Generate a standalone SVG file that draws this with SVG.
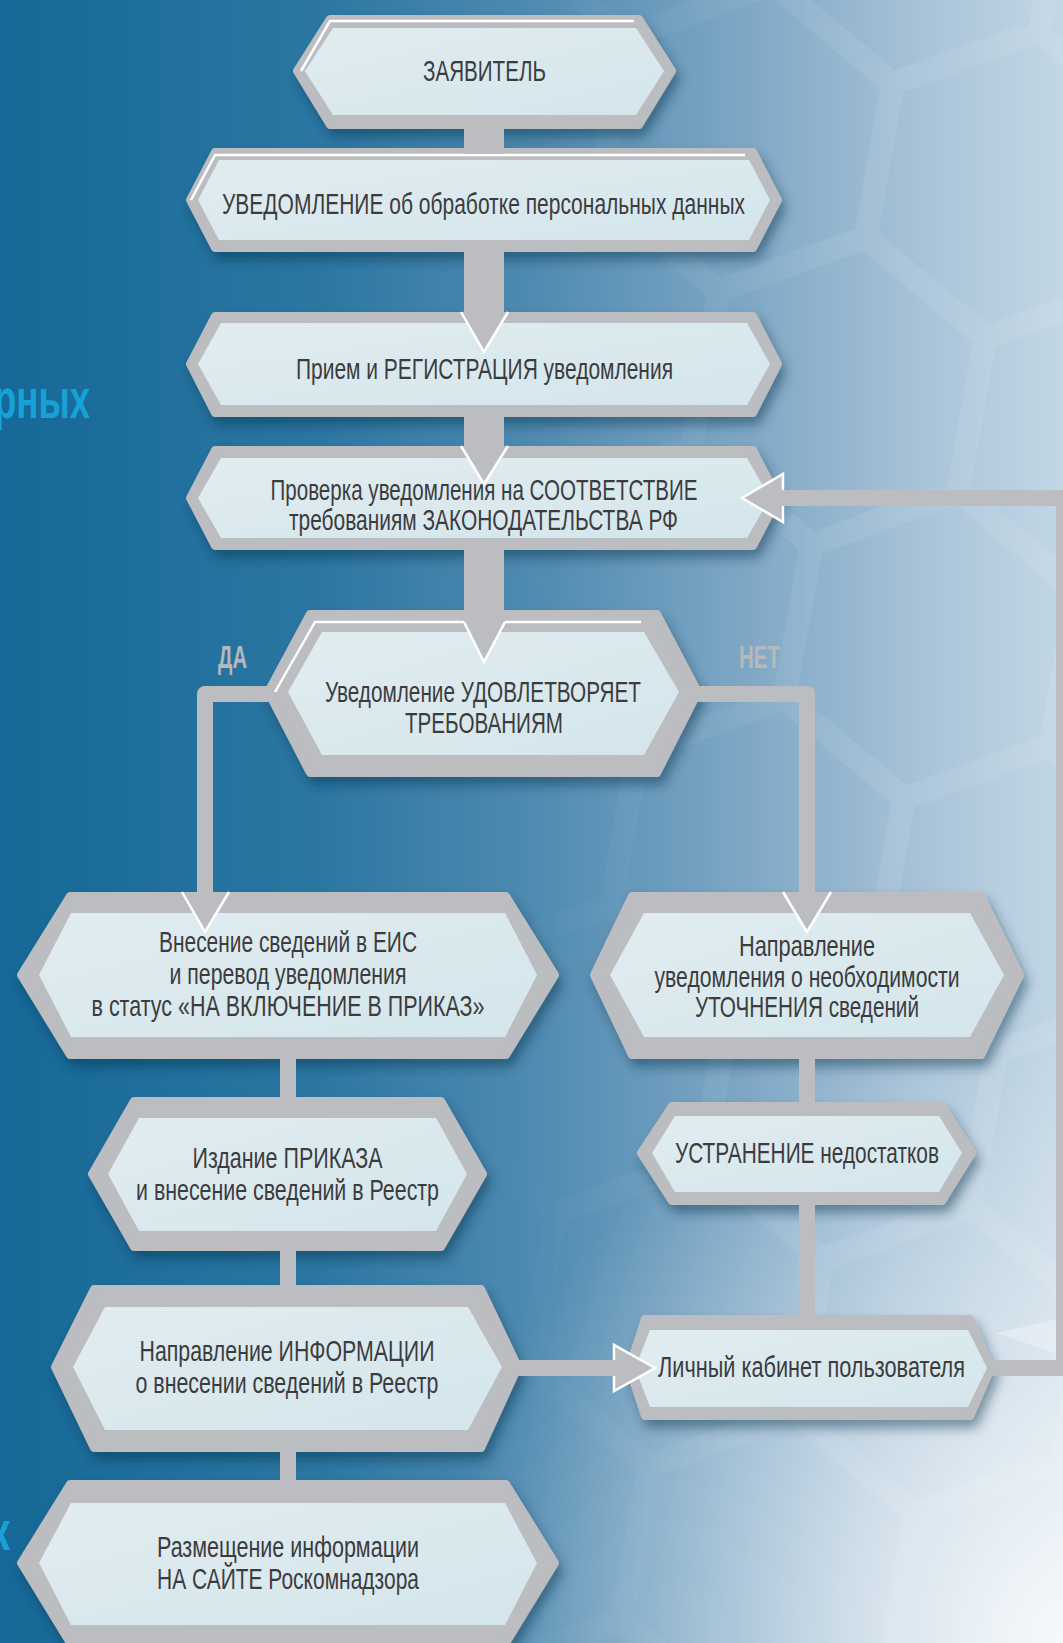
<svg xmlns="http://www.w3.org/2000/svg" width="1063" height="1643" viewBox="0 0 1063 1643">
<defs>
<linearGradient id="bg" x1="0" y1="0" x2="1" y2="0">
<stop offset="0" stop-color="#156897"/>
<stop offset="0.3" stop-color="#2b77a2"/>
<stop offset="0.5" stop-color="#4f8ab0"/>
<stop offset="0.7" stop-color="#7ea7c5"/>
<stop offset="0.85" stop-color="#a4c0d6"/>
<stop offset="1" stop-color="#c3d7e5"/>
</linearGradient>
<radialGradient id="glow" cx="1063" cy="1643" r="620" gradientUnits="userSpaceOnUse">
<stop offset="0" stop-color="#ffffff" stop-opacity="0.85"/>
<stop offset="0.5" stop-color="#ffffff" stop-opacity="0.4"/>
<stop offset="1" stop-color="#ffffff" stop-opacity="0"/>
</radialGradient>
<linearGradient id="fadeMask" x1="0" y1="0" x2="1" y2="0">
<stop offset="0.45" stop-color="#fff" stop-opacity="0"/>
<stop offset="0.8" stop-color="#fff" stop-opacity="1"/>
</linearGradient>
<mask id="hm"><rect width="1063" height="1643" fill="url(#fadeMask)"/></mask>
<pattern id="hex" width="208" height="360" patternUnits="userSpaceOnUse" patternTransform="translate(640,-40) rotate(10) scale(1.3)">
<path d="M104,0 L208,60 L208,180 L104,240 L0,180 L0,60 Z M104,240 L104,360" fill="none" stroke="#ffffff" stroke-width="18"/>
</pattern>
<linearGradient id="fill" x1="0" y1="0" x2="1" y2="1">
<stop offset="0" stop-color="#e1ecf0"/>
<stop offset="1" stop-color="#d3e6ec"/>
</linearGradient>
<filter id="sh" x="-10%" y="-20%" width="125%" height="150%">
<feDropShadow dx="4" dy="8" stdDeviation="6" flood-color="#0b2f45" flood-opacity="0.45"/>
</filter>
<style>
.o{fill:#bcbdc0;stroke:#bcbdc0;stroke-width:8;stroke-linejoin:round;filter:url(#sh)}
.i{fill:url(#fill)}
.hl{fill:none;stroke:#ffffff;stroke-width:2.5;stroke-linejoin:round}
.t{font-family:"Liberation Sans Narrow","Liberation Sans",Arial,sans-serif;font-size:30px;fill:#3c3c3e;text-anchor:middle}
.lb{font-family:"Liberation Sans Narrow","Liberation Sans",Arial,sans-serif;font-size:31px;font-weight:bold;fill:#b6b9bc;text-anchor:middle}
.cy{font-family:"Liberation Sans Narrow","Liberation Sans",Arial,sans-serif;font-size:56px;font-weight:bold;fill:#16a2d6}
.bar{fill:#bcbdc0}
.ln{fill:none;stroke:#bcbdc0;stroke-width:16;stroke-linejoin:round}
.ah{fill:#bcbdc0;stroke:#ffffff;stroke-width:2.5;stroke-linejoin:miter}
.aw{fill:none;stroke:#ffffff;stroke-width:2.5;stroke-linejoin:miter}
</style>
</defs>

<g id="background">
<rect width="1063" height="1643" fill="url(#bg)"/>
<rect width="1063" height="1643" fill="url(#hex)" mask="url(#hm)" opacity="0.08"/>
<rect width="1063" height="1643" fill="url(#glow)"/>
<polygon points="995,1333 1063,1318 1063,1356" fill="#ffffff" opacity="0.3"/>
<text class="cy" x="-6" y="418" textLength="96" lengthAdjust="spacingAndGlyphs">рных</text>
<text class="cy" x="-12" y="1550" textLength="22" lengthAdjust="spacingAndGlyphs">к</text>
</g>

<g id="n1">
<polygon class="o" points="297,71 330,19 639,19 672,71 639,125 330,125"/>
<polygon class="i" points="305,71 333,28 636,28 664,71 636,115 333,115"/>
<polyline class="hl" points="301,71 330,21 634,21"/>
<text class="t" x="484.5" y="81" textLength="123" lengthAdjust="spacingAndGlyphs">ЗАЯВИТЕЛЬ</text>
</g>

<g id="n2">
<polygon class="o" points="190,200 215,152 753,152 778,200 753,248 215,248"/>
<polygon class="i" points="198,200 219,160 749,160 770,200 749,240 219,240"/>
<polyline class="hl" points="191,200 215,155 745,155"/>
<text class="t" x="483.5" y="214" textLength="523" lengthAdjust="spacingAndGlyphs">УВЕДОМЛЕНИЕ об обработке персональных данных</text>
</g>

<g id="n3">
<polygon class="o" points="190,364 215,316 753,316 778,364 753,413 215,413"/>
<polygon class="i" points="198,364 221,323 747,323 770,364 747,405 221,405"/>
<text class="t" x="484.5" y="379" textLength="377" lengthAdjust="spacingAndGlyphs">Прием и РЕГИСТРАЦИЯ уведомления</text>
</g>

<g id="n4">
<polygon class="o" points="190,498 215,450 753,450 778,498 753,546 215,546"/>
<polygon class="i" points="198,498 221,458 747,458 770,498 747,538 221,538"/>
<text class="t" x="484" y="500" textLength="427" lengthAdjust="spacingAndGlyphs">Проверка уведомления на СООТВЕТСТВИЕ</text>
<text class="t" x="483.5" y="530" textLength="389" lengthAdjust="spacingAndGlyphs">требованиям ЗАКОНОДАТЕЛЬСТВА РФ</text>
</g>

<g id="n5">
<polygon class="o" points="268,692 310,614 657,614 698,692 657,773 310,773"/>
<polygon class="i" points="288,692 322,632 644,632 679,692 644,755 322,755"/>
<polyline class="hl" points="275,692 315,622 464,622"/>
<polyline class="hl" points="505,622 641,622"/>
<text class="t" x="483" y="702" textLength="316" lengthAdjust="spacingAndGlyphs">Уведомление УДОВЛЕТВОРЯЕТ</text>
<text class="t" x="484" y="733" textLength="158" lengthAdjust="spacingAndGlyphs">ТРЕБОВАНИЯМ</text>
</g>

<g id="n6">
<polygon class="o" points="21,975 70,896 506,896 555,975 506,1055 70,1055"/>
<polygon class="i" points="39,975 71,913 505,913 537,975 505,1037 71,1037"/>
<text class="t" x="288" y="952" textLength="258" lengthAdjust="spacingAndGlyphs">Внесение сведений в ЕИС</text>
<text class="t" x="288" y="984" textLength="237" lengthAdjust="spacingAndGlyphs">и перевод уведомления</text>
<text class="t" x="288" y="1016" textLength="393" lengthAdjust="spacingAndGlyphs">в статус «НА ВКЛЮЧЕНИЕ В ПРИКАЗ»</text>
</g>

<g id="n7">
<polygon class="o" points="594,975 632,896 981,896 1020,975 981,1055 632,1055"/>
<polygon class="i" points="610,975 644,913 970,913 1004,975 970,1037 644,1037"/>
<text class="t" x="807" y="956" textLength="136" lengthAdjust="spacingAndGlyphs">Направление</text>
<text class="t" x="807" y="987" textLength="305" lengthAdjust="spacingAndGlyphs">уведомления о необходимости</text>
<text class="t" x="807" y="1017" textLength="224" lengthAdjust="spacingAndGlyphs">УТОЧНЕНИЯ сведений</text>
</g>

<g id="n8">
<polygon class="o" points="92,1174 134,1101 441,1101 483,1174 441,1247 134,1247"/>
<polygon class="i" points="108,1174 139,1118 436,1118 467,1174 436,1231 139,1231"/>
<text class="t" x="287.5" y="1168" textLength="190" lengthAdjust="spacingAndGlyphs">Издание ПРИКАЗА</text>
<text class="t" x="287.5" y="1200" textLength="303" lengthAdjust="spacingAndGlyphs">и внесение сведений в Реестр</text>
</g>

<g id="n9">
<polygon class="o" points="641,1153 672,1106 942,1106 972,1153 942,1201 672,1201"/>
<polygon class="i" points="652,1153 675,1116 939,1116 962,1153 939,1192 675,1192"/>
<text class="t" x="807" y="1163" textLength="264" lengthAdjust="spacingAndGlyphs">УСТРАНЕНИЕ недостатков</text>
</g>

<g id="n10">
<polygon class="o" points="55,1367 94,1289 481,1289 518,1367 481,1448 94,1448"/>
<polygon class="i" points="73,1367 105,1307 468,1307 502,1367 468,1430 105,1430"/>
<text class="t" x="287" y="1361" textLength="295" lengthAdjust="spacingAndGlyphs">Направление ИНФОРМАЦИИ</text>
<text class="t" x="287" y="1393" textLength="303" lengthAdjust="spacingAndGlyphs">о внесении сведений в Реестр</text>
</g>

<g id="n11">
<polygon class="o" points="629,1368 645,1319 970,1319 991,1368 970,1416 645,1416"/>
<polygon class="i" points="635,1368 650,1330 968,1330 987,1368 968,1407 650,1407"/>
<text class="t" x="811.5" y="1377" textLength="307" lengthAdjust="spacingAndGlyphs">Личный кабинет пользователя</text>
</g>

<g id="n12">
<polygon class="o" points="21,1563 70,1484 506,1484 555,1563 506,1643 70,1643"/>
<polygon class="i" points="39,1563 71,1503 505,1503 537,1563 505,1625 71,1625"/>
<text class="t" x="288" y="1557" textLength="262" lengthAdjust="spacingAndGlyphs">Размещение информации</text>
<text class="t" x="288" y="1589" textLength="262" lengthAdjust="spacingAndGlyphs">НА САЙТЕ Роскомнадзора</text>
</g>

<g id="connectors">
<rect class="bar" x="464" y="124" width="40" height="30"/>
<rect class="bar" x="464" y="247" width="40" height="70"/>
<polygon class="bar" points="461,312 508,312 484,352"/>
<polyline class="aw" points="461,312 484,352 508,312"/>
<rect class="bar" x="464" y="412" width="40" height="40"/>
<polygon class="bar" points="461,446 508,446 484,484"/>
<polyline class="aw" points="461,446 484,484 508,446"/>
<rect class="bar" x="464" y="545" width="40" height="78"/>
<polygon class="bar" points="464,622 505,622 484,662"/>
<polyline class="aw" points="464,622 484,662 505,622"/>

<polyline class="ln" points="272,694 205,694 205,893"/>
<polygon class="bar" points="182,892 229,892 205,932"/>
<polyline class="aw" points="182,892 205,932 229,892"/>
<text class="lb" x="232.5" y="668" textLength="29" lengthAdjust="spacingAndGlyphs">ДА</text>
<polyline class="ln" points="694,694 807,694 807,893"/>
<polygon class="bar" points="783,892 831,892 807,932"/>
<polyline class="aw" points="783,892 807,932 831,892"/>
<text class="lb" x="759.5" y="668" textLength="41" lengthAdjust="spacingAndGlyphs">НЕТ</text>

<line class="ln" x1="288" y1="1054" x2="288" y2="1102"/>
<line class="ln" x1="807" y1="1054" x2="807" y2="1107"/>
<line class="ln" x1="288" y1="1246" x2="288" y2="1290"/>
<line class="ln" x1="807" y1="1200" x2="807" y2="1320"/>
<line class="ln" x1="288" y1="1447" x2="288" y2="1485"/>

<polygon class="ah" points="655,1368 614,1345 614,1391"/>
<line class="ln" x1="516" y1="1368" x2="616" y2="1368"/>

<polygon class="ah" points="742,498 783,474 783,522"/>
<polyline class="ln" points="993,1368 1064,1368 1064,498 781,498"/>
</g>
</svg>
